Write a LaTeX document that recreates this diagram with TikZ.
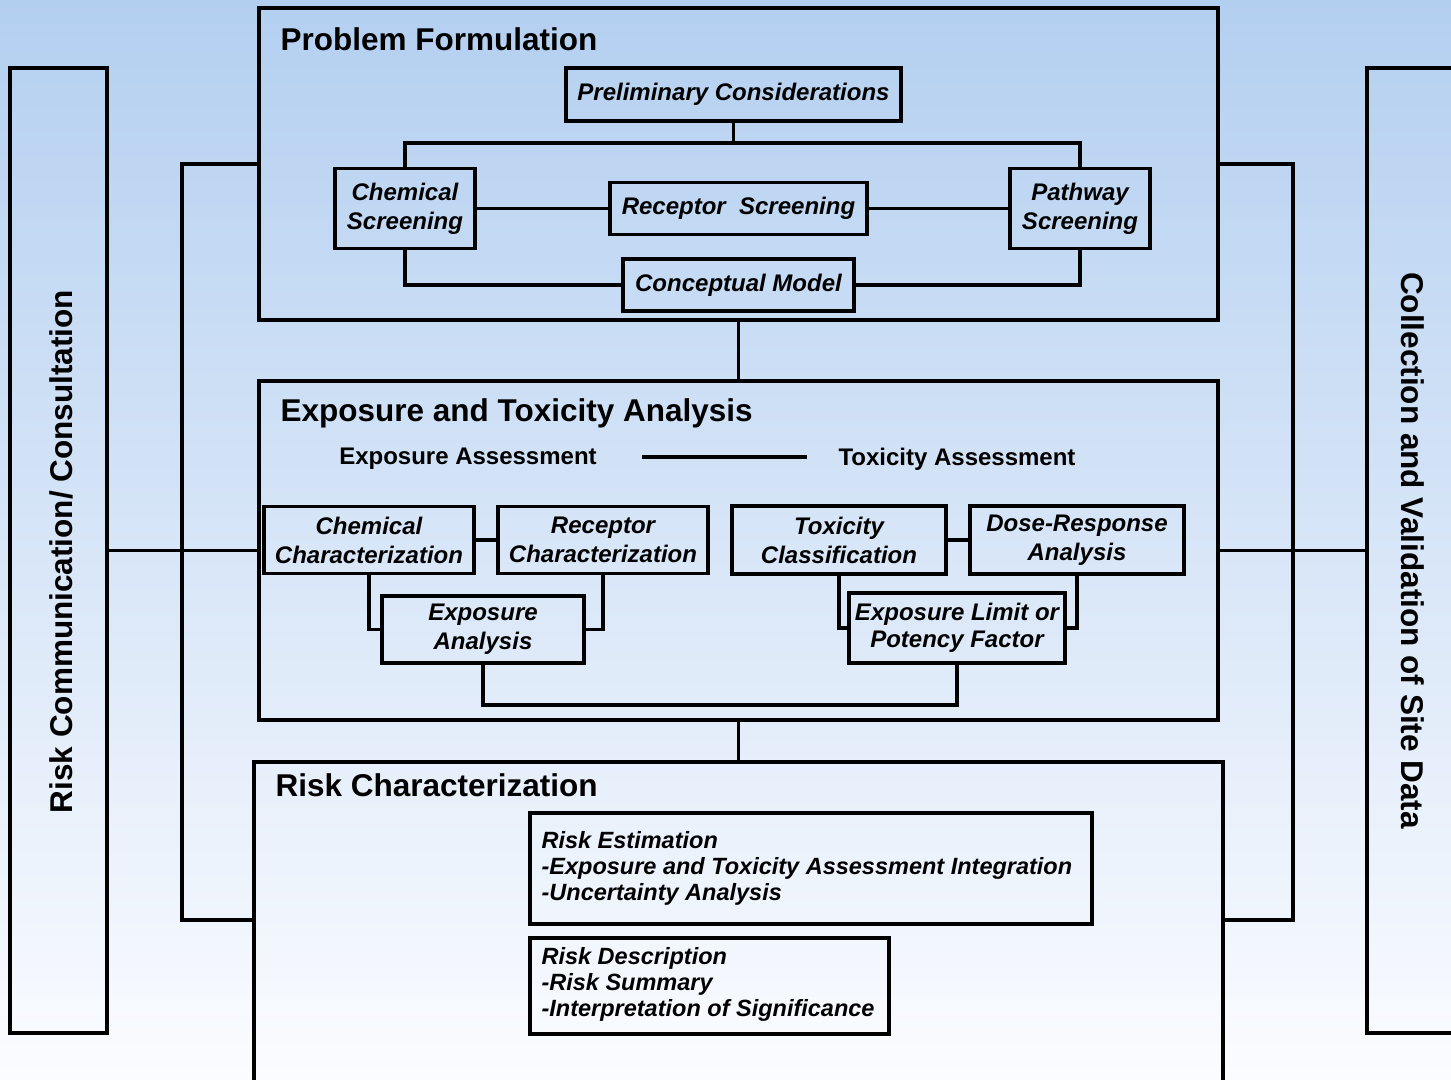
\documentclass[tikz,border=0pt]{standalone}
\usepackage{fontspec}
\setmainfont{Liberation Sans}
\definecolor{bgtop}{HTML}{B3CFF0}
\definecolor{bgbot}{HTML}{FBFCFF}
\begin{document}
\begin{tikzpicture}[x=1pt,y=-1pt,line width=3.2pt,
  container/.style={draw=black,line width=3.2pt,rectangle,inner sep=0pt},
  box/.style={draw=black,line width=3.2pt,rectangle,inner sep=0pt,align=center,
    font=\fontsize{24}{29}\selectfont\bfseries\itshape},
  listtext/.style={anchor=west,inner sep=0pt,align=left,
    font=\fontsize{23.5}{26}\selectfont\bfseries\itshape},
  title/.style={anchor=west,inner sep=0pt,font=\fontsize{31.5}{34}\selectfont\bfseries},
  subtitle/.style={inner sep=0pt,font=\fontsize{24}{28}\selectfont\bfseries},
  sidetext/.style={inner sep=0pt,font=\fontsize{31.5}{34}\selectfont\bfseries},
  conn/.style={draw=black,line width=3.2pt}]
\useasboundingbox (0,0) rectangle (1451,1079);
\clip (0,0) rectangle (1451,1079);
\shade[top color=bgtop,bottom color=bgbot] (0,0) rectangle (1451,1079);

% side boxes
\node[container,minimum width=97pt,minimum height=965pt] (lbox) at (58.5,550.5) {};
\node[sidetext,rotate=90] (ltext) at (61,551.5) {Risk Communication/ Consultation};
\node[container,minimum width=173pt,minimum height=965pt] (rbox) at (1453.5,550.5) {};
\node[sidetext,rotate=-90] (rtext) at (1413,550.5) {Collection and Validation of Site Data};

% main containers
\node[container,minimum width=959pt,minimum height=312pt] (pf) at (738.5,164) {};
\node[container,minimum width=959pt,minimum height=339pt] (ex) at (738.5,550.5) {};
\node[container,minimum width=969pt,minimum height=348pt] (rc) at (738.5,936) {};
\node[title] (pft) at (279,39) {Problem Formulation};
\node[title] (ext) at (279,413) {Exposure and Toxicity Analysis};
\node[title] (rct) at (274,785) {Risk Characterization};

% problem formulation content
\node[box,minimum width=335pt,minimum height=53pt] (prelim) at (733.5,94.5) {Preliminary Considerations};
\node[box,minimum width=140pt,minimum height=80pt] (chems) at (405,208.5) {Chemical\\Screening};
\node[box,minimum width=257pt,minimum height=52pt] (recs) at (738.5,208.5) {Receptor~ Screening};
\node[box,minimum width=140pt,minimum height=80pt] (paths) at (1080,208.5) {Pathway\\Screening};
\node[box,minimum width=231pt,minimum height=52pt] (concept) at (738.5,285) {Conceptual Model};
\coordinate (pj) at (733.5,143);
\draw[conn] (prelim.south) -- (pj);
\draw[conn] (chems.north) |- (pj) -| (paths.north);
\draw[conn] (chems) -- (recs);
\draw[conn] (recs) -- (paths);
\draw[conn] (chems.south) |- (concept.west);
\draw[conn] (paths.south) |- (concept.east);

% exposure and toxicity content
\node[subtitle] (ea) at (468,459) {Exposure Assessment};
\node[subtitle] (ta) at (957,459) {Toxicity Assessment};
\draw[conn] ([xshift=44pt]ea.east |- 0,457) -- ([xshift=-30pt]ta.west |- 0,457);
\node[box,minimum width=210pt,minimum height=67pt] (chc) at (369,540) {Chemical\\Characterization};
\node[box,minimum width=210pt,minimum height=67pt] (rcc) at (603,540) {Receptor\\Characterization};
\node[box,minimum width=202pt,minimum height=67pt] (ean) at (483,629.5) {Exposure\\Analysis};
\node[box,minimum width=214pt,minimum height=68pt] (tc) at (839,540) {Toxicity\\Classification};
\node[box,minimum width=214pt,minimum height=68pt] (dr) at (1077,540) {Dose-Response\\Analysis};
\node[box,minimum width=216pt,minimum height=70pt,font=\fontsize{24}{26.5}\selectfont\bfseries\itshape] (el) at (957,628) {Exposure Limit or\\Potency Factor};
\draw[conn] (chc) -- (rcc);
\draw[conn] (chc.south) |- (ean.west);
\draw[conn] (rcc.south) |- (ean.east);
\draw[conn] (tc) -- (dr);
\draw[conn] (tc.south) |- (el.west);
\draw[conn] (dr.south) |- (el.east);
\coordinate (bj) at (483,705);
\draw[conn] (ean.south) -- (bj) -| (el.south);

% risk characterization content
\node[container,minimum width=562pt,minimum height=111pt] (rest) at (811,868.5) {};
\node[listtext] (restt) at (540,868.5) {Risk Estimation\\-Exposure and Toxicity Assessment Integration\\-Uncertainty Analysis};
\node[container,minimum width=359pt,minimum height=96pt] (rdesc) at (709.5,986) {};
\node[listtext] (rdesct) at (540,984.5) {Risk Description\\-Risk Summary\\-Interpretation of Significance};

% vertical links between stages
\draw[conn] (pf.south) -- (ex.north);
\draw[conn] (ex.south) -- (rc.north);

% side links
\coordinate (lb) at (182,920);
\coordinate (rb) at (1293,920);
\draw[conn] (pf.west) -| (lb) -- (lb -| rc.west);
\draw[conn] (pf.east) -| (rb) -- (rb -| rc.east);
\draw[conn] (lbox.east |- ex.west) -- (ex.west);
\draw[conn] (ex.east) -- (rbox.west |- ex.east);
\end{tikzpicture}
\end{document}
